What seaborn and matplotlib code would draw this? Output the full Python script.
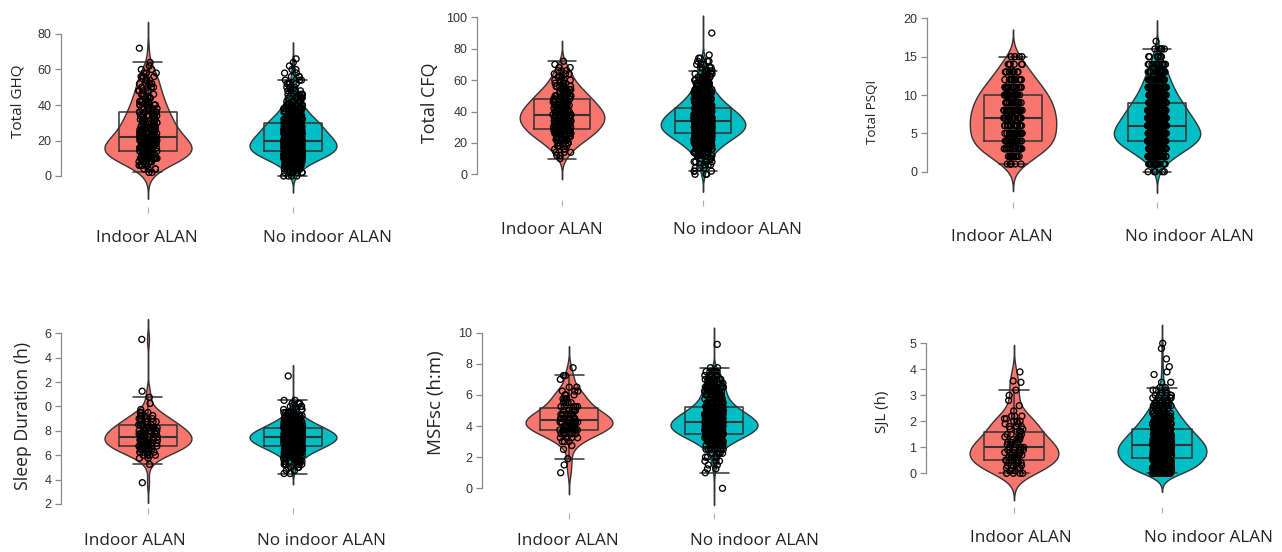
import numpy as np
import pandas as pd
import matplotlib
matplotlib.use("Agg")
import matplotlib.pyplot as plt
from matplotlib.transforms import ScaledTranslation
import seaborn as sns

# ---------------- data ----------------
groups = ["Indoor ALAN", "No indoor ALAN"]
palette = {"Indoor ALAN": "#F8766D", "No indoor ALAN": "#00BFC4"}

# Total GHQ
ghq_in_vals = [2, 4, 6, 8, 10, 12, 14, 16, 18, 20, 22, 24, 26, 28, 30, 32, 34, 36, 38, 40,
               42, 44, 46, 48, 50, 52, 54, 56, 58, 60, 62, 64, 72]
ghq_in_counts = [2, 4, 6, 10, 14, 16, 18, 16, 15, 14, 12, 10, 10, 9, 9, 8, 8, 7, 6, 6,
                 6, 5, 5, 4, 4, 4, 3, 4, 3, 2, 1, 1, 1]
ghq_no_vals = [0, 2, 4, 6, 8, 10, 12, 14, 16, 18, 20, 22, 24, 26, 28, 30, 32, 34, 36, 38,
               40, 42, 44, 46, 48, 50, 52, 54, 56, 58, 60, 62, 64, 66]
ghq_no_counts = [4, 6, 10, 16, 24, 34, 46, 54, 54, 56, 50, 46, 42, 38, 34, 34, 26, 22, 18, 15,
                 12, 9, 8, 6, 5, 4, 4, 3, 3, 2, 2, 1, 1, 1]

# Total CFQ
cfq_in_vals = [10, 12, 14, 16, 18, 20, 22, 24, 26, 28, 30, 32, 34, 36, 38, 40, 42, 44, 46, 48,
               50, 52, 54, 56, 58, 60, 62, 64, 66, 68, 70, 72]
cfq_in_counts = [1, 2, 3, 3, 4, 6, 8, 9, 10, 12, 12, 13, 14, 14, 14, 13, 12, 12, 10, 9,
                 9, 8, 6, 6, 4, 4, 3, 3, 3, 2, 1, 1]
cfq_no_vals = [0, 2, 4, 6, 8, 10, 12, 14, 16, 18, 20, 22, 24, 26, 28, 30, 32, 34, 36, 38,
               40, 42, 44, 46, 48, 50, 52, 54, 56, 58, 60, 62, 64, 66, 68, 70, 72, 74, 76, 90]
cfq_no_counts = [3, 3, 3, 4, 5, 7, 9, 12, 15, 19, 23, 28, 34, 40, 44, 46, 46, 45, 42, 38,
                 34, 30, 26, 22, 18, 16, 13, 11, 9, 8, 7, 6, 5, 4, 4, 3, 3, 2, 1, 1]

# Total PSQI
psqi_in_vals = [1, 2, 3, 4, 5, 6, 7, 8, 9, 10, 11, 12, 13, 14, 15]
psqi_in_counts = [6, 12, 18, 22, 21, 22, 22, 21, 20, 18, 15, 12, 9, 6, 4]
psqi_no_vals = [0, 1, 2, 3, 4, 5, 6, 7, 8, 9, 10, 11, 12, 13, 14, 15, 16, 17]
psqi_no_counts = [5, 15, 35, 60, 85, 90, 80, 70, 60, 50, 40, 32, 26, 20, 14, 9, 5, 1]

# Sleep duration (h)
sleep_in_vals = [3.75, 5.25, 5.75, 6.0, 6.25, 6.5, 6.75, 7.0, 7.25, 7.5, 7.75, 8.0, 8.25, 8.5,
                 8.75, 9.0, 9.25, 9.5, 9.75, 10.25, 10.75, 11.25, 15.5]
sleep_in_counts = [1, 1, 2, 4, 5, 7, 8, 9, 9, 9, 8, 8, 7, 6, 5, 4, 4, 3, 1, 1, 1, 1, 1]
sleep_no_vals = [4.5, 4.75, 5.0, 5.25, 5.5, 5.75, 6.0, 6.25, 6.5, 6.75, 7.0, 7.25, 7.5, 7.75,
                 8.0, 8.25, 8.5, 8.75, 9.0, 9.25, 9.5, 9.75, 10.0, 10.25, 10.5, 12.5]
sleep_no_counts = [2, 2, 4, 6, 9, 13, 18, 25, 33, 42, 50, 56, 58, 55, 48, 40, 32, 24, 17, 12,
                   8, 5, 4, 3, 2, 1]
sleep_ticks = [2, 4, 6, 8, 10, 12, 14, 16]
sleep_tick_labels = ["2", "4", "6", "8", "0", "2", "4", "6"]

# MSFsc (h:m)
msf_in_vals = [1.0, 1.5, 1.9, 2.5, 2.75, 3.0, 3.25, 3.5, 3.75, 4.0, 4.25, 4.5, 4.75, 5.0,
               5.25, 5.5, 5.75, 6.0, 6.25, 6.5, 7.0, 7.25, 7.75]
msf_in_counts = [1, 1, 1, 1, 1, 3, 4, 7, 9, 11, 12, 10, 8, 7, 5, 4, 4, 4, 3, 2, 1, 2, 1]
msf_no_vals = [0.0, 1.0, 1.25, 1.5, 1.75, 2.0, 2.25, 2.5, 2.75, 3.0, 3.25, 3.5, 3.75, 4.0,
               4.25, 4.5, 4.75, 5.0, 5.25, 5.5, 5.75, 6.0, 6.25, 6.5, 6.75, 7.0, 7.25, 7.5,
               7.75, 9.25]
msf_no_counts = [1, 1, 2, 2, 3, 4, 6, 9, 14, 22, 32, 42, 50, 54, 52, 46, 38, 32, 24, 19,
                 16, 14, 13, 13, 12, 11, 8, 5, 2, 1]

# SJL (h)
sjl_in_vals = [0.0, 0.1, 0.2, 0.3, 0.4, 0.5, 0.6, 0.7, 0.8, 0.9, 1.0, 1.1, 1.2, 1.3, 1.4,
               1.5, 1.6, 1.7, 1.8, 1.9, 2.0, 2.1, 2.2, 2.4, 2.6, 2.8, 3.0, 3.2, 3.5, 3.55, 3.9]
sjl_in_counts = [4, 3, 4, 4, 4, 5, 5, 5, 5, 5, 5, 4, 4, 4, 3, 3, 3, 2, 3, 2, 3, 2, 3,
                 1, 1, 1, 1, 1, 1, 1, 1]
sjl_no_vals = [0.0, 0.1, 0.2, 0.3, 0.4, 0.5, 0.6, 0.7, 0.8, 0.9, 1.0, 1.1, 1.2, 1.3, 1.4,
               1.5, 1.6, 1.7, 1.8, 1.9, 2.0, 2.1, 2.2, 2.3, 2.4, 2.5, 2.6, 2.7, 2.8, 2.9,
               3.0, 3.1, 3.2, 3.3, 3.5, 3.8, 3.9, 4.1, 4.4, 4.8, 5.0]
sjl_no_counts = [20, 18, 20, 22, 24, 26, 27, 28, 28, 28, 28, 27, 26, 24, 22, 20, 19, 18, 16, 15,
                 14, 12, 11, 10, 9, 8, 7, 6, 5, 5, 4, 3, 3, 2, 2, 1, 1, 1, 1, 1, 1]


def frame(in_vals, in_counts, no_vals, no_counts):
    vals = np.concatenate([np.repeat(in_vals, in_counts), np.repeat(no_vals, no_counts)])
    grp = [groups[0]] * int(sum(in_counts)) + [groups[1]] * int(sum(no_counts))
    return pd.DataFrame({"group": grp, "value": vals})


# ---------------- layout ----------------
sns.set_theme(style="white")
plt.rcParams["font.family"] = ["Liberation Sans", "DejaVu Sans"]

W, H = 1282, 552
fig = plt.figure(figsize=(W / 100, H / 100), dpi=100)
np.random.seed(3)

panels = [
    dict(df=frame(ghq_in_vals, ghq_in_counts, ghq_no_vals, ghq_no_counts), label="Total GHQ",
         ticks=[0, 20, 40, 60, 80], tlabels=None,
         spine=61, c0=148, c1=293, lo=(0, 176), hi=(80, 34), pb=207, pt=5,
         lab=(18, 101), lsize=11, xl=237, xoff=(-1, 34)),
    dict(df=frame(cfq_in_vals, cfq_in_counts, cfq_no_vals, cfq_no_counts), label="Total CFQ",
         ticks=[0, 20, 40, 60, 80, 100], tlabels=None,
         spine=477, c0=562, c1=703, lo=(0, 174.3), hi=(100, 17.3), pb=200, pt=3,
         lab=(430, 103), lsize=12.9, xl=229.5, xoff=(-10, 34)),
    dict(df=frame(psqi_in_vals, psqi_in_counts, psqi_no_vals, psqi_no_counts), label="Total PSQI",
         ticks=[0, 5, 10, 15, 20], tlabels=None,
         spine=927, c0=1013, c1=1157, lo=(0, 171.7), hi=(20, 18.3), pb=202, pt=3,
         lab=(873, 112), lsize=9.6, xl=236, xoff=(-11, 32)),
    dict(df=frame(sleep_in_vals, sleep_in_counts, sleep_no_vals, sleep_no_counts),
         label="Sleep Duration (h)", ticks=sleep_ticks, tlabels=sleep_tick_labels,
         spine=61, c0=148, c1=293, lo=(2, 504), hi=(16, 333.3), pb=508, pt=300,
         lab=(23, 416), lsize=12.7, xl=540, xoff=(-13, 28)),
    dict(df=frame(msf_in_vals, msf_in_counts, msf_no_vals, msf_no_counts), label="MSFsc (h:m)",
         ticks=[0, 2, 4, 6, 8, 10], tlabels=None,
         spine=482, c0=569, c1=714, lo=(0, 488.3), hi=(10, 332.7), pb=513, pt=300,
         lab=(436, 403), lsize=13.5, xl=540, xoff=(-1, 40)),
    dict(df=frame(sjl_in_vals, sjl_in_counts, sjl_no_vals, sjl_no_counts), label="SJL (h)",
         ticks=[0, 1, 2, 3, 4, 5], tlabels=None,
         spine=926, c0=1014, c1=1162, lo=(0, 473.3), hi=(5, 343.3), pb=507, pt=300,
         lab=(883, 412), lsize=10.8, xl=537, xoff=(7, 46)),
]

X_RIGHT = 1.6
XFONT = 12.3
for p in panels:
    upx = p["c1"] - p["c0"]
    x_left = (p["spine"] - p["c0"]) / upx
    (v_lo, py_lo), (v_hi, py_hi) = p["lo"], p["hi"]
    ppu = (py_lo - py_hi) / (v_hi - v_lo)
    y_bot = v_lo - (p["pb"] - py_lo) / ppu
    y_top = v_hi + (py_hi - p["pt"]) / ppu
    ax_w = (X_RIGHT - x_left) * upx
    ax_h = p["pb"] - p["pt"]
    ax = fig.add_axes([p["spine"] / W, 1 - p["pb"] / H, ax_w / W, ax_h / H])
    df = p["df"]

    sns.violinplot(data=df, x="group", y="value", hue="group", order=groups, hue_order=groups,
                   palette=palette, inner=None, density_norm="width", width=0.6, cut=3,
                   linewidth=1.0, linecolor="#333333", saturation=1, legend=False, ax=ax)
    sns.boxplot(data=df, x="group", y="value", order=groups, width=0.4, fill=False,
                color="#333333", linewidth=1.1, showfliers=False, whis=1.5,
                medianprops=dict(linewidth=1.5), ax=ax)
    sns.stripplot(data=df, x="group", y="value", order=groups, jitter=0.065, size=4.3,
                  marker="o", facecolor="none", edgecolor="black", linewidth=0.95, ax=ax)

    ax.set_xlim(x_left, X_RIGHT)
    ax.set_ylim(y_bot, y_top)
    for s in ["top", "right", "bottom"]:
        ax.spines[s].set_visible(False)
    ax.spines["left"].set_color("#8a8a8a")
    ax.spines["left"].set_linewidth(0.9)
    ax.spines["left"].set_bounds(p["ticks"][0], p["ticks"][-1])

    ax.set_yticks(p["ticks"])
    if p["tlabels"] is not None:
        ax.set_yticklabels(p["tlabels"])
    ax.tick_params(axis="y", length=4.5, width=0.9, color="#8a8a8a", labelsize=9,
                   labelcolor="#333333", pad=2.5, left=True)

    ax.set_xticks([0, 1])
    ax.set_xticklabels(groups, fontsize=XFONT, family=["Open Sans", "DejaVu Sans"], color="#222222")
    text_h = 1.36 * XFONT / 0.72
    pad_px = p["xl"] - text_h / 2 - p["pb"] - 4 + 3
    ax.tick_params(axis="x", length=4, width=0.8, color="#b0b0b0", pad=pad_px * 0.72, bottom=True)
    for lbl, dx in zip(ax.get_xticklabels(), p["xoff"]):
        lbl.set_transform(lbl.get_transform() + ScaledTranslation(dx / 100, 0, fig.dpi_scale_trans))
    ax.set_xlabel("")

    ax.set_ylabel(p["label"], fontsize=p["lsize"], family=["Open Sans", "DejaVu Sans"],
                  color="#222222", rotation=90, ha="center", va="center")
    lx, ly = p["lab"]
    ax.yaxis.set_label_coords((lx - p["spine"]) / ax_w, (p["pb"] - ly) / ax_h)
    ax.patch.set_alpha(0)

fig.savefig("out.png", dpi=100, facecolor="white")
